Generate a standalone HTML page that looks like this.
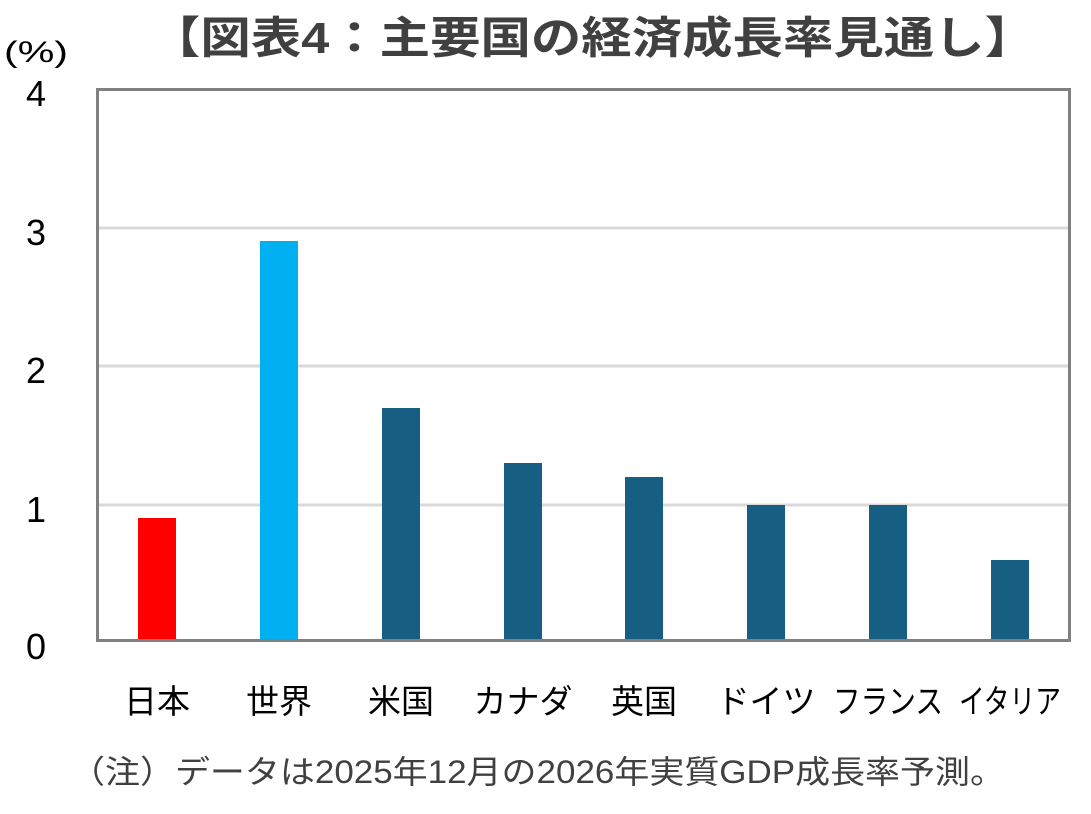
<!DOCTYPE html>
<html><head><meta charset="utf-8"><style>
body{margin:0;background:#fff;width:1091px;height:809px;overflow:hidden;font-family:"Liberation Sans","Noto Sans CJK JP",sans-serif}
</style></head><body>
<svg width="1091" height="809" xmlns="http://www.w3.org/2000/svg" font-family="Liberation Sans, Noto Sans CJK JP, sans-serif">
<text x="150" y="53" font-size="44" font-weight="bold" fill="#404040" textLength="885" lengthAdjust="spacingAndGlyphs">【図表4：主要国の経済成長率見通し】</text>
<text x="4" y="62" font-size="30" fill="#000" textLength="64" lengthAdjust="spacingAndGlyphs">(%)</text>
<g stroke="#d9d9d9" stroke-width="3">
<line x1="97" y1="228" x2="1070" y2="228"/>
<line x1="97" y1="366" x2="1070" y2="366"/>
<line x1="97" y1="505" x2="1070" y2="505"/>
</g>
<g font-size="36" fill="#000" text-anchor="middle">
<text x="36" y="106">4</text><text x="36" y="245">3</text><text x="36" y="383">2</text><text x="36" y="522">1</text><text x="36" y="659">0</text>
</g>
<rect x="138" y="518" width="38" height="123" fill="#ff0000"/>
<rect x="260" y="241" width="38" height="400" fill="#00b0f0"/>
<g fill="#175f82">
<rect x="382" y="408" width="38" height="233"/>
<rect x="504" y="463" width="38" height="178"/>
<rect x="625" y="477" width="38" height="164"/>
<rect x="747" y="505" width="38" height="136"/>
<rect x="869" y="505" width="38" height="136"/>
<rect x="991" y="560" width="38" height="81"/>
</g>
<rect x="97.5" y="89.5" width="972" height="551" fill="none" stroke="#808080" stroke-width="3"/>
<g font-size="33" fill="#000" text-anchor="middle">
<text x="157" y="713">日本</text><text x="279" y="713">世界</text><text x="401" y="713">米国</text><text x="523" y="713">カナダ</text>
<text x="644" y="713">英国</text><text x="766" y="713">ドイツ</text><text x="888" y="713" textLength="110" lengthAdjust="spacingAndGlyphs">フランス</text><text x="1010" y="713" textLength="102" lengthAdjust="spacingAndGlyphs">イタリア</text>
</g>
<text x="70" y="783" font-size="32" fill="#404040" textLength="935" lengthAdjust="spacingAndGlyphs">（注）データは2025年12月の2026年実質GDP成長率予測。</text>
</svg>
</body></html>
